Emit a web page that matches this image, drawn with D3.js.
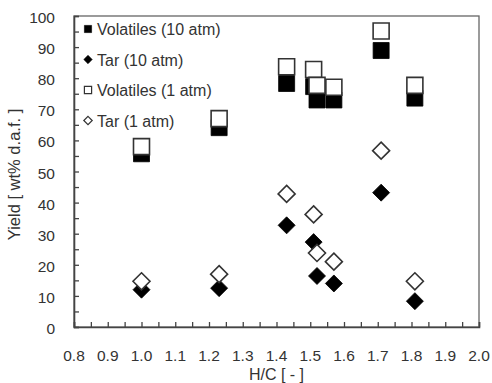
<!DOCTYPE html>
<html>
<head>
<meta charset="utf-8">
<script src="https://cdn.jsdelivr.net/npm/d3@7/dist/d3.min.js"></script>
<style>
  html, body { margin: 0; padding: 0; background: #fff; }
  svg { display: block; font-family: "Liberation Sans", Arial, sans-serif; }
</style>
</head>
<body>
<svg id="chart" width="492" height="383"></svg>
<script>
// H/C atomic ratio of each coal
const hc = [1.00, 1.23, 1.43, 1.51, 1.52, 1.57, 1.71, 1.81];
// Yields, wt% d.a.f.
const volatiles10 = [55.7, 64.1, 78.3, 77.3, 73.0, 73.0, 88.9, 73.6];
const tar10       = [12.0, 12.5, 32.7, 27.3, 16.4, 14.0, 43.2, 8.3];
const volatiles1  = [58.0, 67.0, 83.7, 82.8, 77.7, 77.1, 95.2, 77.7];
const tar1        = [14.7, 17.0, 42.8, 36.2, 23.8, 21.0, 56.7, 14.7];

const xTicks = [0.8, 0.9, 1.0, 1.1, 1.2, 1.3, 1.4, 1.5, 1.6, 1.7, 1.8, 1.9, 2.0];
const yTicks = [0, 10, 20, 30, 40, 50, 60, 70, 80, 90, 100];

const series = [
  { name: "Volatiles (10 atm)", values: volatiles10, shape: "square",  filled: true },
  { name: "Tar (10 atm)",       values: tar10,       shape: "diamond", filled: true },
  { name: "Volatiles (1 atm)",  values: volatiles1,  shape: "square",  filled: false },
  { name: "Tar (1 atm)",        values: tar1,        shape: "diamond", filled: false }
];

const svg = d3.select("#chart");
const margin = { left: 74, right: 13, top: 16, bottom: 56 };
const W = 492, H = 383;

const x = d3.scaleLinear().domain([0.8, 2.0]).range([margin.left, W - margin.right]);
const y = d3.scaleLinear().domain([0, 100]).range([H - margin.bottom, margin.top]);

const axisColor = "#444";
const textColor = "#333";

function shapePath(shape, r) {
  if (shape === "square") {
    return `M${-r},${-r}H${r}V${r}H${-r}Z`;
  }
  return `M0,${-r}L${r},0L0,${r}L${-r},0Z`;
}

// plot frame (top and right edges)
svg.append("rect")
  .attr("x", x(0.8)).attr("y", y(100))
  .attr("width", x(2.0) - x(0.8)).attr("height", y(0) - y(100))
  .attr("fill", "none").attr("stroke", "#666").attr("stroke-width", 1.3);

// x axis with inward ticks every 0.05
const xMinor = d3.range(0, 25).map(i => 0.8 + i * 0.05);
const gx = svg.append("g").attr("transform", `translate(0,${y(0)})`);
gx.call(d3.axisBottom(x).tickValues(xMinor).tickSize(-5).tickFormat(""));
gx.select(".domain").attr("stroke", axisColor).attr("stroke-width", 1.6);
gx.selectAll(".tick line").attr("stroke", axisColor).attr("stroke-width", 1.3);
gx.selectAll(".tick text").remove();

svg.append("g").selectAll("text").data(xTicks).join("text")
  .attr("x", d => x(d)).attr("y", y(0) + 34)
  .attr("text-anchor", "middle")
  .attr("font-size", 15.5).attr("fill", textColor)
  .text(d => d.toFixed(1));

// y axis with inward ticks every 5
const yMinor = d3.range(0, 21).map(i => i * 5);
const gy = svg.append("g").attr("transform", `translate(${x(0.8)},0)`);
gy.call(d3.axisLeft(y).tickValues(yMinor).tickSize(-5).tickFormat(""));
gy.select(".domain").attr("stroke", axisColor).attr("stroke-width", 1.6);
gy.selectAll(".tick line").attr("stroke", axisColor).attr("stroke-width", 1.3);

svg.append("g").selectAll("text").data(yTicks).join("text")
  .attr("x", x(0.8) - 19).attr("y", d => y(d) + 7)
  .attr("text-anchor", "end")
  .attr("font-size", 15.5).attr("fill", textColor)
  .text(d => d);

// axis titles
svg.append("text")
  .attr("x", (x(0.8) + x(2.0)) / 2).attr("y", 380)
  .attr("text-anchor", "middle").attr("font-size", 16).attr("fill", textColor)
  .text("H/C [ - ]");

svg.append("text")
  .attr("transform", `translate(20,${(y(0) + y(100)) / 2 + 3}) rotate(-90)`)
  .attr("text-anchor", "middle").attr("font-size", 16.5).attr("fill", textColor)
  .text("Yield [ wt% d.a.f. ]");

// data marks, drawn in series order
series.forEach(s => {
  const r = s.shape === "square" ? 8 : 8.5;
  svg.append("g").selectAll("path").data(s.values).join("path")
    .attr("transform", (v, i) => `translate(${x(hc[i])},${y(v)})`)
    .attr("d", shapePath(s.shape, r))
    .attr("fill", s.filled ? "#000" : "#fff")
    .attr("stroke", s.filled ? "#000" : "#333")
    .attr("stroke-width", s.filled ? 0.8 : 1.6);
});

// legend
const legend = svg.append("g");
series.forEach((s, i) => {
  const cy = 29 + i * 30.5;
  const r = s.shape === "square" ? 3.6 : 4.2;
  legend.append("path")
    .attr("transform", `translate(88,${cy})`)
    .attr("d", shapePath(s.shape, r))
    .attr("fill", s.filled ? "#000" : "#fff")
    .attr("stroke", s.filled ? "#000" : "#333")
    .attr("stroke-width", s.filled ? 0.6 : 1.2);
  legend.append("text")
    .attr("x", 97).attr("y", cy + 6)
    .attr("font-size", 16).attr("fill", textColor)
    .text(s.name);
});
</script>
</body>
</html>
